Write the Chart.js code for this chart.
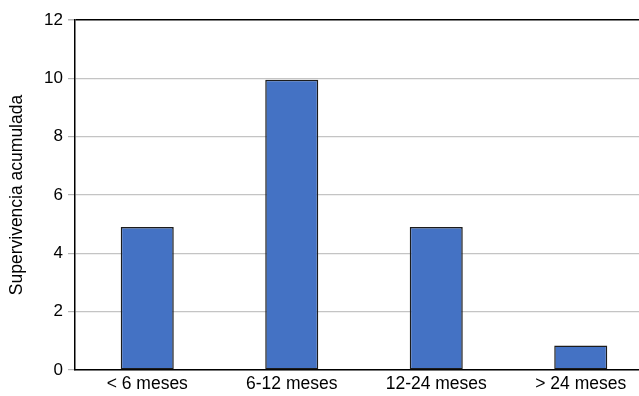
<!DOCTYPE html>
<html>
<head>
<meta charset="utf-8">
<script src="https://cdn.jsdelivr.net/npm/chart.js@4/dist/chart.umd.min.js"></script>
<style>
  html, body { margin: 0; padding: 0; background: #fff; overflow: hidden; }
  /* the plot frame runs on past the right edge of the visible area */
  #wrap { width: 639px; height: 396px; overflow: hidden; }
  #c { display: block; }
</style>
</head>
<body>
<div id="wrap"><canvas id="c" width="653" height="396"></canvas></div>
<script>
// Survival grouped by time interval
const categories = ['< 6 meses', '6-12 meses', '12-24 meses', '> 24 meses'];
const values = [4.9, 9.95, 4.9, 0.84];
const yTicks = [0, 2, 4, 6, 8, 10, 12];
const yTitle = 'Supervivencia acumulada';

const FONT = "'Liberation Sans', Arial, Helvetica, sans-serif";

new Chart(document.getElementById('c'), {
  type: 'bar',
  data: {
    labels: categories,
    datasets: [{
      data: values,
      backgroundColor: '#4472C4',
      borderColor: '#1c1c1c',
      borderWidth: 1.5,
      borderSkipped: false,
      categoryPercentage: 1,
      barPercentage: 0.367
    }]
  },
  options: {
    responsive: false,
    animation: false,
    layout: { padding: { top: 20, right: 0, left: 0, bottom: 0 } },
    plugins: {
      legend: { display: false },
      tooltip: { enabled: false }
    },
    scales: {
      x: {
        grid: { display: false, drawTicks: false },
        border: { display: true, color: '#000', width: 1.5 },
        ticks: {
          color: '#000',
          padding: 4,
          maxRotation: 0,
          autoSkip: false,
          font: { family: FONT, size: 17.5 }
        },
        afterFit: s => { s.height = 26; }
      },
      y: {
        min: yTicks[0],
        max: yTicks[yTicks.length - 1],
        afterBuildTicks: s => { s.ticks = yTicks.map(v => ({ value: v })); },
        grid: {
          color: c => (c.tick && c.tick.value === yTicks[yTicks.length - 1]) ? '#000' : '#c4c4c4',
          lineWidth: c => (c.tick && c.tick.value === yTicks[yTicks.length - 1]) ? 1.5 : 1.2,
          tickColor: '#b4b4b4',
          tickLength: 7,
          drawTicks: true
        },
        border: { display: true, color: '#000', width: 1.5 },
        ticks: {
          color: '#000',
          padding: 5,
          font: { family: FONT, size: 17 }
        },
        title: {
          display: true,
          text: yTitle,
          color: '#000',
          padding: { top: 7, bottom: 0 },
          font: { family: FONT, size: 17.5 }
        },
        afterFit: s => { s.width = 75; }
      }
    }
  }
});
</script>
</body>
</html>
